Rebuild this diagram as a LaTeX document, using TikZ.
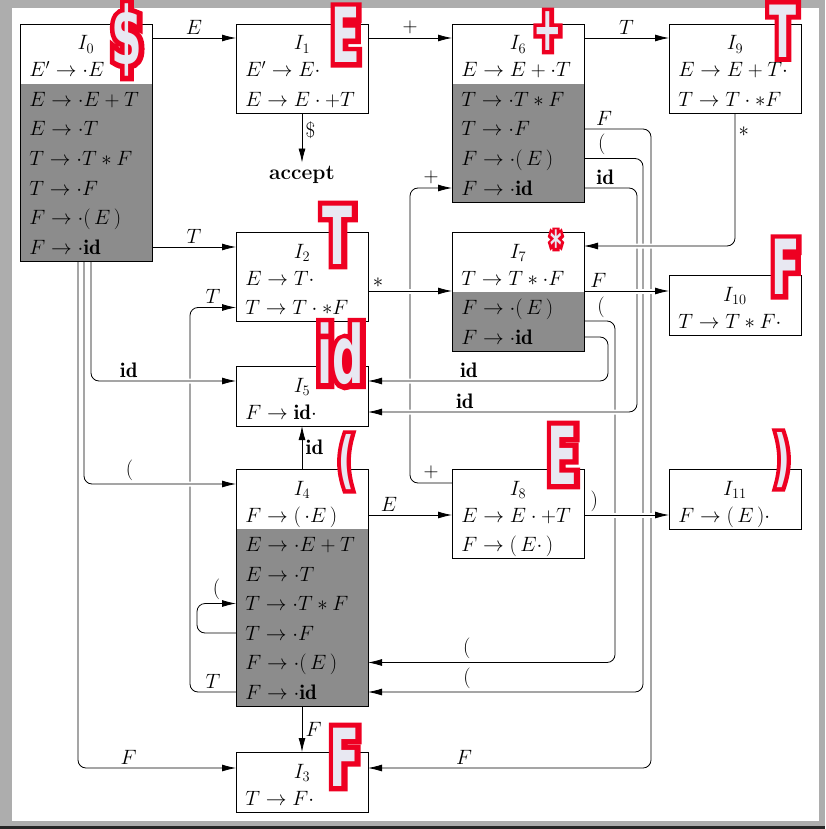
\documentclass[tikz,border=0pt]{standalone}
\usepackage{amsmath,amssymb}
\usepackage{fontspec}
\usepackage{tikz}
\usetikzlibrary{arrows.meta}
\usepackage{xcolor}
\newfontfamily\markfont{DejaVu Sans}[FakeStretch=0.55]
\newfontfamily\markedge{DejaVu Sans}[FakeStretch=0.55,FakeBold=13]
\definecolor{mkred}{RGB}{238,0,34}
\definecolor{mkfill}{RGB}{232,232,242}
\newcommand{\hollow}[1]{\leavevmode\rlap{\markedge\color{mkred}#1}{\color{mkfill}#1}}

\begin{document}
\begin{tikzpicture}[x=1pt,y=-1pt,>={Latex[length=14pt,width=7pt]},line width=0.8pt,
  font=\fontsize{21}{25}\selectfont,
  lrbox/.style={draw,anchor=north west,minimum width=132pt,inner sep=0pt,outer sep=0pt},
  closure/.style={path picture={\fill[black!45] ([yshift=-#1]path picture bounding box.north west) rectangle (path picture bounding box.south east);}},
  item/.style={anchor=west,inner sep=0pt,text height=14pt,text depth=0pt},
  ttl/.style={inner sep=0pt,text height=14pt,text depth=0pt},
  bridge/.style={preaction={draw=white,line width=5pt,-,shorten <=3pt,shorten >=3pt}},
  redmark/.style={font=\markfont\bfseries\fontsize{#1}{#1}\selectfont,inner sep=0pt}]
\useasboundingbox (0,0) rectangle (825,829);
\fill[black!32] (0,0) rectangle (825,829);
\fill[white] (12,8) rectangle (819,821);
\fill[black!85] (0,826) rectangle (825,829);

% item sets
\node[lrbox,closure=60pt,minimum height=237pt] (s0) at (20,24) {};
\node[lrbox,minimum height=89.5pt] (s1) at (236,24) {};
\node[lrbox,closure=60pt,minimum height=178pt] (s6) at (452,24) {};
\node[lrbox,minimum height=89.5pt] (s9) at (669,24) {};
\node[lrbox,minimum height=89.5pt] (s2) at (236,232) {};
\node[lrbox,closure=60pt,minimum height=119pt] (s7) at (452,232) {};
\node[lrbox,minimum height=60pt] (s10) at (669,275) {};
\node[lrbox,minimum height=60pt] (s5) at (236,366) {};
\node[lrbox,closure=60pt,minimum height=237pt] (s4) at (236,469) {};
\node[lrbox,minimum height=89.5pt] (s8) at (452,469) {};
\node[lrbox,minimum height=60pt] (s11) at (669,469) {};
\node[lrbox,minimum height=60pt] (s3) at (236,752) {};

\node[ttl] (t0) at (86,43) {$I_0$};
\node[item] (r0a) at (29,70) {$E'\to\cdot E$};
\node[item] (r0b) at (29,99.5) {$E\to\cdot E+T$};
\node[item] (r0c) at (29,129) {$E\to\cdot T$};
\node[item] (r0d) at (29,158.5) {$T\to\cdot T*F$};
\node[item] (r0e) at (29,188) {$T\to\cdot F$};
\node[item] (r0f) at (29,217.5) {$F\to\cdot(\,E\,)$};
\node[item] (r0g) at (29,247) {$F\to\cdot\mathbf{id}$};

\node[ttl] (t1) at (302,43) {$I_1$};
\node[item] (r1a) at (245,70) {$E'\to E\cdot$};
\node[item] (r1b) at (245,99.5) {$E\to E\cdot{+}T$};

\node[ttl] (t6) at (518,43) {$I_6$};
\node[item] (r6a) at (461,70) {$E\to E+\cdot T$};
\node[item] (r6b) at (461,99.5) {$T\to\cdot T*F$};
\node[item] (r6c) at (461,129) {$T\to\cdot F$};
\node[item] (r6d) at (461,158.5) {$F\to\cdot(\,E\,)$};
\node[item] (r6e) at (461,188) {$F\to\cdot\mathbf{id}$};

\node[ttl] (t9) at (735,43) {$I_9$};
\node[item] (r9a) at (678,70) {$E\to E+T\cdot$};
\node[item] (r9b) at (678,99.5) {$T\to T\cdot{*}F$};

\node[ttl] (t2) at (302,251) {$I_2$};
\node[item] (r2a) at (245,278) {$E\to T\cdot$};
\node[item] (r2b) at (245,307.5) {$T\to T\cdot{*}F$};

\node[ttl] (t7) at (518,251) {$I_7$};
\node[item] (r7a) at (461,278) {$T\to T*\cdot F$};
\node[item] (r7b) at (461,307.5) {$F\to\cdot(\,E\,)$};
\node[item] (r7c) at (461,337) {$F\to\cdot\mathbf{id}$};

\node[ttl] (t10) at (735,294) {$I_{10}$};
\node[item] (r10a) at (678,321) {$T\to T*F\cdot$};

\node[ttl] (t5) at (302,385) {$I_5$};
\node[item] (r5a) at (245,412) {$F\to\mathbf{id}\cdot$};

\node[ttl] (t4) at (302,488) {$I_4$};
\node[item] (r4a) at (245,515) {$F\to(\,\cdot E\,)$};
\node[item] (r4b) at (245,544.5) {$E\to\cdot E+T$};
\node[item] (r4c) at (245,574) {$E\to\cdot T$};
\node[item] (r4d) at (245,603.5) {$T\to\cdot T*F$};
\node[item] (r4e) at (245,633) {$T\to\cdot F$};
\node[item] (r4f) at (245,662.5) {$F\to\cdot(\,E\,)$};
\node[item] (r4g) at (245,692) {$F\to\cdot\mathbf{id}$};

\node[ttl] (t8) at (518,488) {$I_8$};
\node[item] (r8a) at (461,515) {$E\to E\cdot{+}T$};
\node[item] (r8b) at (461,544.5) {$F\to(\,E\cdot\,)$};

\node[ttl] (t11) at (735,488) {$I_{11}$};
\node[item] (r11a) at (678,515) {$F\to(\,E\,)\cdot$};

\node[ttl] (t3) at (302,771) {$I_3$};
\node[item] (r3a) at (245,798) {$T\to F\cdot$};

\node[font=\bfseries\fontsize{21}{25}\selectfont] (acc) at (302,175) {accept};

% goto edges
\draw[->] ([yshift=-14pt]s0.north east) -- node[above]{$E$} ([yshift=-14pt]s1.north west);
\draw[->] ([yshift=-14pt]s1.north east) -- node[above]{$+$} ([yshift=-14pt]s6.north west);
\draw[->] ([yshift=-14pt]s6.north east) -- node[above]{$T$} ([yshift=-14pt]s9.north west);
\draw[->] (s1.south) -- node[right,pos=0.35]{\$} (acc.north);
\draw[->] (s0.east |- r0g) -- node[above]{$T$} (s2.west |- r0g);
\draw[->] (s4.east |- r4a) -- node[above,pos=0.25]{$E$} (s8.west |- r4a);
\draw[->] (s4.north) -- node[right]{$\mathbf{id}$} (s5.south);
\draw[->] (s4.south) -- node[right]{$F$} (s3.north);
\draw[->,rounded corners=8pt] (s4.west |- r4e) -- ++(-39,0) |- node[above,pos=0.75]{$($} (s4.west |- r4d);
\draw[->,rounded corners=8pt] (s4.west |- r4g) -- node[above]{$T$} ++(-46,0) |- node[above,pos=0.75]{$T$} (s2.west |- r2b);
\draw[->,rounded corners=8pt] ([yshift=-14pt]s8.north west) -- node[above]{$+$} ++(-42,0) |- node[above,pos=0.75]{$+$} (s6.west |- r6e);
\draw[->,rounded corners=8pt] ([xshift=-8pt]s0.south) |- node[above,pos=0.66]{$F$} ([yshift=-16pt]s3.north west);
\draw[->,rounded corners=8pt] ([yshift=-89pt]s7.north east) -- node[above,pos=0.55]{$($} ++(31,0) |- node[above,pos=0.8]{$($} (s4.east |- r4f);
\draw[->,rounded corners=8pt] (s6.east |- r6c) -- node[above,pos=0.3]{$F$} ++(67,0) |- node[above,pos=0.83]{$F$} ([yshift=-16pt]s3.north east);
\draw[->,rounded corners=8pt] (s6.east |- r6d) -- node[above,pos=0.3]{$($} ++(59,0) |- node[above,pos=0.82]{$($} (s4.east |- r4g);
% these pass over the others
\draw[->,bridge,rounded corners=8pt] (s6.east |- r6e) -- node[above,pos=0.4]{$\mathbf{id}$} ++(53,0) |- node[above,pos=0.82]{$\mathbf{id}$} (s5.east |- r5a);
\draw[->,bridge,rounded corners=8pt] (s7.east |- r7c) -- ++(24,0) |- node[above,pos=0.79]{$\mathbf{id}$} ([yshift=-15pt]s5.north east);
\draw[->,bridge,rounded corners=8pt] (s9.south) |- node[right,pos=0.07]{$*$} ([yshift=-14pt]s7.north east);
\draw[->,bridge] ([yshift=-59pt]s2.north east) -- node[above,pos=0.12]{$*$} ([yshift=-59pt]s7.north west);
\draw[->,bridge] ([yshift=-59pt]s7.north east) coordinate (f7) -- node[above,pos=0.17]{$F$} (f7 -| s10.west);
\draw[->,bridge] (s8.east |- r8a) -- node[above,pos=0.12]{$)$} (s11.west |- r8a);
\draw[->,bridge,rounded corners=8pt] ([xshift=5pt]s0.south) |- node[above,pos=0.63]{$\mathbf{id}$} ([yshift=-15pt]s5.north west);
\draw[->,bridge,rounded corners=8pt] ([xshift=-2pt]s0.south) |- node[above,pos=0.65]{$($} ([yshift=-15pt]s4.north west);

% red symbol marks
\node[redmark=80] (m0) at (127,40) {\hollow{\$}};
\node[redmark=76] (m1) at (346,35) {\hollow{E}};
\node[redmark=62] (m6) at (548,31) {\hollow{+}};
\node[redmark=72] (m9) at (783,31) {\hollow{T}};
\node[redmark=80] (m2) at (338,235) {\hollow{T}};
\node[redmark=40] (m7) at (556,245) {\hollow{*}};
\node[redmark=76] (m10) at (786,267) {\hollow{F}};
\node[redmark=80] (m5) at (341,354) {\hollow{id}};
\node[redmark=62] (m4) at (346,462) {\hollow{(}};
\node[redmark=80] (m8) at (563,455) {\hollow{E}};
\node[redmark=62] (m11) at (782,460) {\hollow{)}};
\node[redmark=80] (m3) at (345,757) {\hollow{F}};
\end{tikzpicture}
\end{document}
